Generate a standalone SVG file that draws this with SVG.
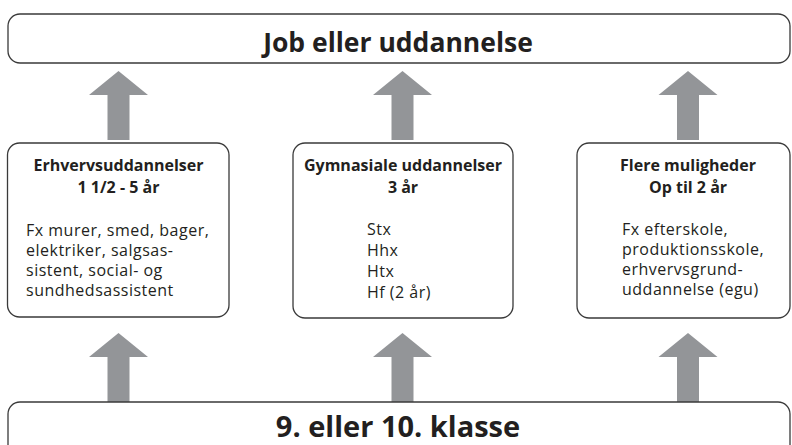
<svg xmlns="http://www.w3.org/2000/svg" width="792" height="445" viewBox="0 0 792 445">
<style>
.box{fill:#fff;stroke:#3a3a3a;stroke-width:1.3}
.arr{fill:#939598}
text{font-family:"Open Sans","Noto Sans",sans-serif;fill:#231f20}
.big{font-weight:bold;text-anchor:middle}
.ttl{font-size:16px;font-weight:bold;text-anchor:middle}
.body{font-size:16px;letter-spacing:0.5px}
</style>
<defs>
<path id="up" class="arr" d="M0,0 L29.5,24 L11,24 L11,69 L-11,69 L-11,24 L-29.5,24 Z"/>
</defs>
<g id="connectors">
<use href="#up" x="118.5" y="71"/>
<use href="#up" x="402.5" y="71"/>
<use href="#up" x="688" y="71"/>
<use href="#up" x="118.5" y="333"/>
<use href="#up" x="402.5" y="333"/>
<use href="#up" x="688" y="333"/>
</g>
<g id="top">
<rect class="box" x="8" y="14" width="782" height="49" rx="12"/>
<text class="big" x="398" y="52" font-size="26.5">Job eller uddannelse</text>
</g>
<g id="erhverv">
<rect class="box" x="7.5" y="143" width="221.5" height="174" rx="12"/>
<text class="ttl" x="118.5" y="171">Erhvervsuddannelser</text>
<text class="ttl" x="118.5" y="193">1 1/2 - 5 år</text>
<text class="body" x="26" y="236">Fx murer, smed, bager,</text>
<text class="body" x="26" y="256">elektriker, salgsas-</text>
<text class="body" x="26" y="276">sistent, social- og</text>
<text class="body" x="26" y="296">sundhedsassistent</text>
</g>
<g id="gymnasiale">
<rect class="box" x="293" y="143" width="220" height="175" rx="12"/>
<text class="ttl" x="403" y="171">Gymnasiale uddannelser</text>
<text class="ttl" x="403" y="193">3 år</text>
<text class="body" x="367" y="235">Stx</text>
<text class="body" x="367" y="256">Hhx</text>
<text class="body" x="367" y="277">Htx</text>
<text class="body" x="367" y="298">Hf (2 år)</text>
</g>
<g id="flere">
<rect class="box" x="577" y="143" width="213" height="175" rx="12"/>
<text class="ttl" x="688" y="171">Flere muligheder</text>
<text class="ttl" x="688" y="193">Op til 2 år</text>
<text class="body" x="622" y="235">Fx efterskole,</text>
<text class="body" x="622" y="255">produktionsskole,</text>
<text class="body" x="622" y="275">erhvervsgrund-</text>
<text class="body" x="622" y="295">uddannelse (egu)</text>
</g>
<g id="bottom">
<rect class="box" x="8" y="402" width="782" height="60" rx="12"/>
<text class="big" x="398" y="437" font-size="29">9. eller 10. klasse</text>
</g>
</svg>
